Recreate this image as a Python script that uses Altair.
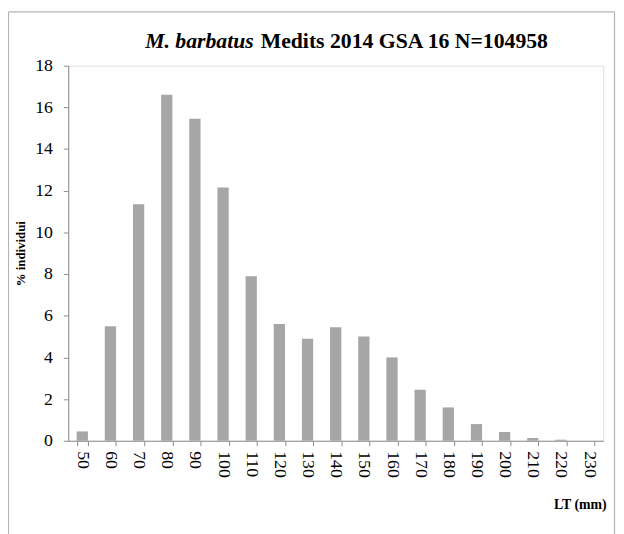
import altair as alt
import pandas as pd

lengths = ["50", "60", "70", "80", "90", "100", "110", "120", "130", "140",
           "150", "160", "170", "180", "190", "200", "210", "220", "230"]
percent = [0.45, 5.5, 11.35, 16.6, 15.45, 12.15, 7.9, 5.6, 4.9, 5.45,
           5.0, 4.0, 2.45, 1.6, 0.8, 0.42, 0.13, 0.05, 0.0]
y_ticks = [0, 2, 4, 6, 8, 10, 12, 14, 16, 18]

df = pd.DataFrame({"LT": lengths, "pct": percent})

W, H = 542, 380
FONT = "'Liberation Serif', 'Times New Roman', Times, serif"
AXC = "#8c8c8c"

bars = alt.Chart(df).mark_bar(color="#a6a6a6").encode(
    x=alt.X("LT:N", sort=lengths,
            scale=alt.Scale(paddingInner=0.6, paddingOuter=0.3),
            axis=alt.Axis(title="LT (mm)", labelAngle=90, labelAlign="left",
                          labelBaseline="middle", labelFontSize=18, labelFont=FONT,
                          labelColor="black", labelPadding=5,
                          tickBand="extent", tickSize=5, tickColor=AXC,
                          domainColor=AXC,
                          titleFont=FONT, titleFontSize=14, titleFontWeight="bold",
                          titleColor="black", titleAnchor="end", titleAlign="right",
                          titleX=545, titleY=65, titleBaseline="middle")),
    y=alt.Y("pct:Q", scale=alt.Scale(domain=[0, 18], nice=False),
            axis=alt.Axis(title="% individui", values=y_ticks, grid=False,
                          labelFontSize=18, labelFont=FONT, labelColor="black",
                          tickSize=5, tickColor=AXC, domainColor=AXC,
                          labelPadding=11,
                          titleFont=FONT, titleFontSize=13, titleFontWeight="bold",
                          titleColor="black", titleX=-48, titleBaseline="middle")),
)

title_it = alt.Chart(pd.DataFrame({"t": ["M. barbatus"]})).mark_text(
    font=FONT, fontSize=22, fontStyle="italic", fontWeight="bold",
    align="right", baseline="alphabetic", color="black"
).encode(text="t:N", x=alt.value(188), y=alt.value(-18))

title_bd = alt.Chart(pd.DataFrame({"t": ["Medits 2014 GSA 16 N=104958"]})).mark_text(
    font=FONT, fontSize=22, fontWeight="bold",
    align="left", baseline="alphabetic", color="black"
).encode(text="t:N", x=alt.value(195), y=alt.value(-18))

FC = "#b4b4b4"
frame_left = alt.Chart(pd.DataFrame({"a": [0]})).mark_rule(color=FC, strokeWidth=1.2).encode(
    x=alt.value(-60.5), y=alt.value(-54.5), y2=alt.value(H + 95))
frame_top = alt.Chart(pd.DataFrame({"a": [0]})).mark_rule(color=FC, strokeWidth=1.2).encode(
    x=alt.value(-60.5), x2=alt.value(553.5), y=alt.value(-54.5))
frame_right = alt.Chart(pd.DataFrame({"a": [0]})).mark_rule(color=FC, strokeWidth=1.2).encode(
    x=alt.value(553.5), y=alt.value(-54.5), y2=alt.value(H + 95))

chart = alt.layer(bars, title_it, title_bd, frame_left, frame_top, frame_right).properties(
    width=W, height=H,
    autosize=alt.AutoSizeParams(type="none"),
    padding={"left": 61, "top": 55, "right": 13, "bottom": 91},
).configure_view(stroke=None).configure(background="white", font=FONT)

chart.save("out.html", embed_options={"renderer": "svg", "actions": False})
